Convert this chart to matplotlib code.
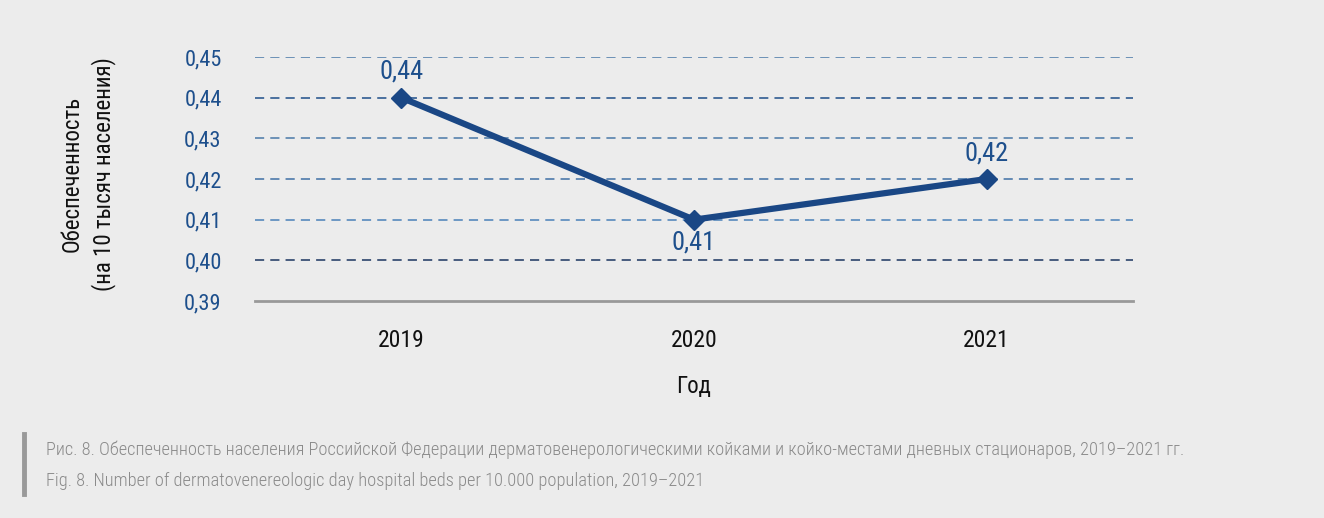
import matplotlib
matplotlib.use("Agg")
import matplotlib.pyplot as plt
from matplotlib.lines import Line2D

years = ["2019", "2020", "2021"]
values = [0.44, 0.41, 0.42]
labels = ["0,44", "0,41", "0,42"]
label_pos = ["above", "below", "above"]
yticks = [0.39, 0.40, 0.41, 0.42, 0.43, 0.44, 0.45]
ytick_labels = ["0,39", "0,40", "0,41", "0,42", "0,43", "0,44", "0,45"]

caption_ru = ("Рис. 8. Обеспеченность населения Российской Федерации дерматовенерологическими "
              "койками и койко-местами дневных стационаров, 2019–2021 гг.")
caption_en = "Fig. 8. Number of dermatovenereologic day hospital beds per 10.000 population, 2019–2021"

FONTS = ["Roboto Condensed", "Liberation Sans Narrow", "DejaVu Sans"]
plt.rcParams["font.family"] = FONTS

BG = "#ececec"
NAVY = "#1a4785"
TICK = "#1d4f8c"

W, H = 1324, 518
fig = plt.figure(figsize=(W / 100, H / 100), dpi=100, facecolor=BG)
ax = fig.add_axes([255 / W, 1 - 301 / H, (1133 - 255) / W, (301 - 57) / H])
ax.set_facecolor(BG)

x = [i + 0.5 for i in range(len(years))]
ax.set_xlim(0, len(years))
ax.set_ylim(0.39, 0.45)

grid_colors = {0.40: "#1a3560", 0.41: "#4a80b8", 0.42: "#3f6fa5",
               0.43: "#4a78a8", 0.44: "#1f4f8a", 0.45: "#4a78a8"}
for yv, c in grid_colors.items():
    ax.axhline(yv, color=c, lw=1.1, ls=(0, (6, 4)), zorder=1)

ax.plot(x, values, color=NAVY, lw=4.5, marker="D", ms=10, zorder=3)
for xi, v, lab, pos in zip(x, values, labels, label_pos):
    dy = 26 if pos == "above" else -23
    ax.annotate(lab, (xi, v), xytext=(0, dy), textcoords="offset pixels",
                ha="center", va="center", fontsize=19, color=TICK)

for s in ["top", "right", "left"]:
    ax.spines[s].set_visible(False)
ax.spines["bottom"].set_color("#999999")
ax.spines["bottom"].set_linewidth(2)

ax.set_yticks(yticks)
ax.set_yticklabels(ytick_labels)
ax.set_xticks(x)
ax.set_xticklabels(years)
ax.tick_params(axis="y", length=0, pad=24, labelsize=16, labelcolor=TICK)
ax.tick_params(axis="x", length=0, pad=20, labelsize=17, labelcolor="#111111")

ax.set_xlabel("Год", fontsize=16.5, labelpad=17, color="#111111")
fig.text(88 / W, 1 - 174 / H, "Обеспеченность\n(на 10 тысяч населения)", rotation=90,
         ha="center", va="center", fontsize=16.5, color="#111111", linespacing=1.4)

# caption block
fig.add_artist(Line2D([24 / W, 24 / W], [1 - 434 / H, 1 - 494 / H], color="#999999", lw=3.5))
fig.text(46 / W, 1 - 450 / H, caption_ru, ha="left", va="center", fontsize=13.2,
         color="#8a8a8a", fontweight="light")
fig.text(46 / W, 1 - 481 / H, caption_en, ha="left", va="center", fontsize=13.2,
         color="#8a8a8a", fontweight="light")

fig.savefig("out.png", dpi=100, facecolor=BG)
